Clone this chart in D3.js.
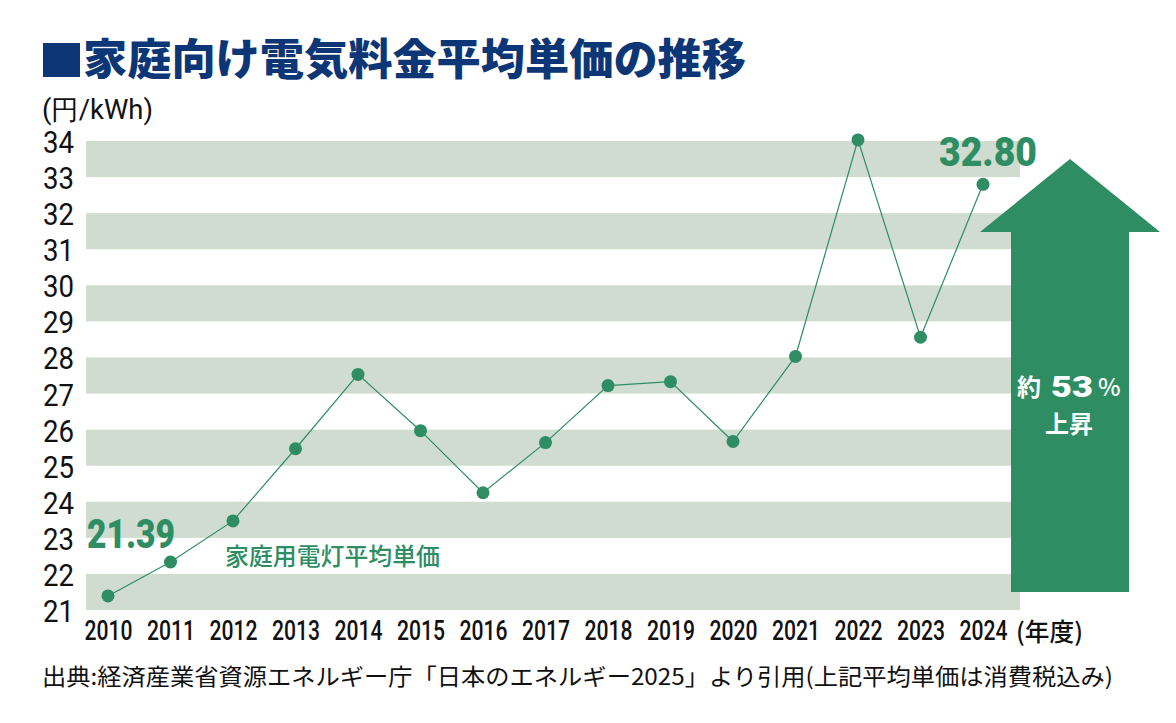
<!DOCTYPE html>
<html><head><meta charset="utf-8">
<script src="https://cdn.jsdelivr.net/npm/d3@7"></script>
<style>
html,body{margin:0;padding:0;background:#fff;}
svg{display:block;}
</style></head>
<body>
<svg id="chart" width="1176" height="723"></svg>
<script>
const years = [2010,2011,2012,2013,2014,2015,2016,2017,2018,2019,2020,2021,2022,2023,2024];
const prices = [21.39,22.33,23.47,25.47,27.53,25.97,24.25,25.64,27.22,27.33,25.67,28.03,34.03,28.56,32.80];
const yTicks = [21,22,23,24,25,26,27,28,29,30,31,32,33,34];
const bandStarts = [21,23,25,27,29,31,33];
const title = "家庭向け電気料金平均単価の推移";
const unitLabel = "(円/kWh)";
const xUnit = "(年度)";
const seriesName = "家庭用電灯平均単価";
const source = "出典:経済産業省資源エネルギー庁「日本のエネルギー2025」より引用(上記平均単価は消費税込み)";

const GREEN = "#2e8d62", BAND = "#cfdccf", NAVY = "#0d3676";
const NUM = "Roboto,'Liberation Sans',sans-serif";
const CJK = "'Noto Sans CJK JP','Noto Sans',sans-serif";

const svg = d3.select("#chart");
const x = d3.scaleLinear().domain([2010,2024]).range([108,983]);
const y = d3.scaleLinear().domain([21,34]).range([610,141]);
const bandX0 = 86, bandX1 = 1020;

// bands
svg.append("g").selectAll("rect").data(bandStarts).join("rect")
  .attr("x", bandX0).attr("width", bandX1-bandX0)
  .attr("y", d=>y(d+1)).attr("height", d=>y(d)-y(d+1))
  .attr("fill", BAND);

// title
svg.append("rect").attr("x",43).attr("y",43).attr("width",37).attr("height",34).attr("fill",NAVY);
svg.append("text").attr("x",83).attr("y",75).text(title)
  .attr("font-family",CJK).attr("font-weight",900).attr("font-size",43)
  .attr("fill",NAVY).attr("textLength",663).attr("lengthAdjust","spacingAndGlyphs");

// unit label
svg.append("text").attr("x",42).attr("y",119).text(unitLabel)
  .attr("font-family",NUM).attr("font-size",27).attr("fill","#111")
  .attr("textLength",111).attr("lengthAdjust","spacingAndGlyphs");

// y axis
const yAxis = d3.axisLeft(y).tickValues(yTicks).tickSize(0).tickPadding(0).tickFormat(d3.format("d"));
const gy = svg.append("g").attr("transform","translate(74,0)").call(yAxis);
gy.select(".domain").remove();
gy.selectAll("text").attr("font-family",NUM).attr("font-size",32).attr("fill","#111").attr("dy","0.36em")
  .attr("textLength",31).attr("lengthAdjust","spacingAndGlyphs");

// x axis
const xAxis = d3.axisBottom(x).tickValues(years).tickSize(0).tickPadding(0).tickFormat(d3.format("d"));
const gx = svg.append("g").attr("transform","translate(0,621)").call(xAxis);
gx.select(".domain").remove();
gx.selectAll("text").attr("font-family",NUM).attr("font-weight",500).attr("font-size",27).attr("fill","#111").attr("dy","0.71em")
  .attr("textLength",48).attr("lengthAdjust","spacingAndGlyphs");
svg.append("text").attr("x",1016).attr("y",641).text(xUnit)
  .attr("font-family",CJK).attr("font-weight",500).attr("font-size",25).attr("fill","#111")
  .attr("textLength",67).attr("lengthAdjust","spacingAndGlyphs");

// arrow
const ap = d3.path();
ap.moveTo(1011,592); ap.lineTo(1011,232); ap.lineTo(980,232); ap.lineTo(1070,159);
ap.lineTo(1160,232); ap.lineTo(1129,232); ap.lineTo(1129,592); ap.closePath();
svg.append("path").attr("d",ap.toString()).attr("fill",GREEN);

// line + points
const data = years.map((yr,i)=>({yr, v:prices[i]}));
svg.append("path").datum(data)
  .attr("d", d3.line().x(d=>x(d.yr)).y(d=>y(d.v)))
  .attr("fill","none").attr("stroke",GREEN).attr("stroke-width",1.2);
svg.append("g").selectAll("circle").data(data).join("circle")
  .attr("cx",d=>x(d.yr)).attr("cy",d=>y(d.v)).attr("r",6.5).attr("fill",GREEN);

// value labels
svg.append("text").attr("x",87).attr("y",548).text(d3.format(".2f")(prices[0]))
  .attr("font-family",NUM).attr("font-weight",900).attr("font-size",40).attr("fill",GREEN)
  .attr("textLength",88).attr("lengthAdjust","spacingAndGlyphs");
svg.append("text").attr("x",939).attr("y",166).text(d3.format(".2f")(prices[prices.length-1]))
  .attr("font-family",NUM).attr("font-weight",900).attr("font-size",40).attr("fill",GREEN)
  .attr("textLength",98).attr("lengthAdjust","spacingAndGlyphs");

// series label
svg.append("text").attr("x",225).attr("y",565).text(seriesName)
  .attr("font-family",CJK).attr("font-weight",500).attr("font-size",24).attr("fill",GREEN)
  .attr("textLength",215).attr("lengthAdjust","spacingAndGlyphs");

// arrow text
svg.append("text").attr("x",1017).attr("y",396).text("約")
  .attr("font-family",CJK).attr("font-weight",700).attr("font-size",24).attr("fill","#fff");
svg.append("text").attr("x",1051).attr("y",397).text("53")
  .attr("font-family",NUM).attr("font-weight",900).attr("font-size",30).attr("fill","#fff")
  .attr("textLength",42).attr("lengthAdjust","spacingAndGlyphs");
svg.append("text").attr("x",1098).attr("y",396).text("%")
  .attr("font-family",CJK).attr("font-weight",500).attr("font-size",24).attr("fill","#fff");
svg.append("text").attr("x",1045).attr("y",433).text("上昇")
  .attr("font-family",CJK).attr("font-weight",700).attr("font-size",24).attr("fill","#fff");

// source
svg.append("text").attr("x",42).attr("y",685).text(source)
  .attr("font-family",CJK).attr("font-weight",400).attr("font-size",23).attr("fill","#111")
  .attr("textLength",1071).attr("lengthAdjust","spacingAndGlyphs");
</script>
</body></html>
